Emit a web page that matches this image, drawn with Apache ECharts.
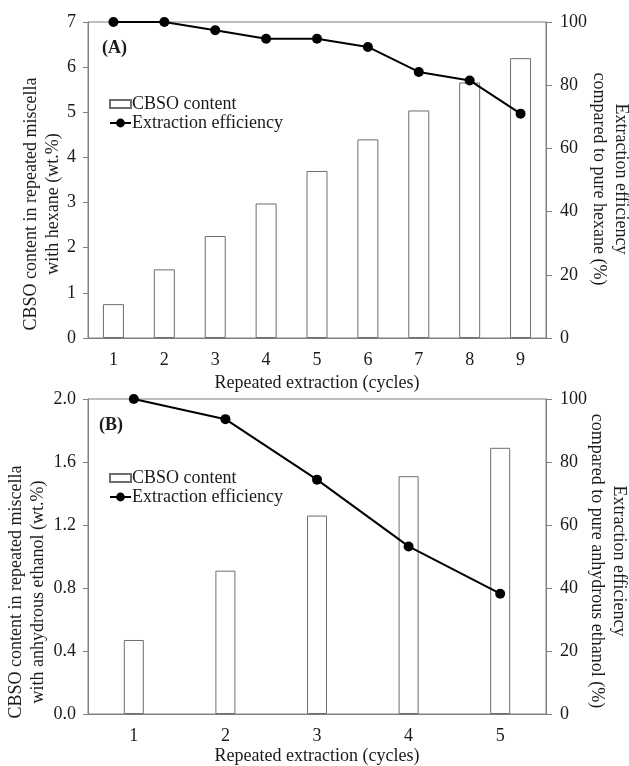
<!DOCTYPE html>
<html>
<head>
<meta charset="utf-8">
<script src="https://cdn.jsdelivr.net/npm/echarts@6/dist/echarts.min.js"></script>
<style>
  html, body { margin: 0; padding: 0; background: #fff; }
  #chart { width: 629px; height: 766px; }
</style>
</head>
<body>
<div id="chart"></div>
<script>
// panel A (hexane)
const cyclesA = ['1', '2', '3', '4', '5', '6', '7', '8', '9'];
const contentA = [0.75, 1.52, 2.26, 2.98, 3.70, 4.40, 5.04, 5.66, 6.20];
const efficiencyA = [100, 100, 97.4, 94.7, 94.7, 92.1, 84.2, 81.5, 71.0];
// panel B (anhydrous ethanol)
const cyclesB = ['1', '2', '3', '4', '5'];
const contentB = [0.47, 0.91, 1.26, 1.51, 1.69];
const efficiencyB = [100, 93.6, 74.4, 53.2, 38.2];

const font = "'Liberation Serif', 'Times New Roman', serif";
const axisGray = '#7f7f7f';
const txt = '#1a1a1a';

let myChart = echarts.init(document.getElementById('chart'));

function xAxisOf (idx, data, gap) {
  return {
    type: 'category',
    gridIndex: idx,
    data: data,
    name: 'Repeated extraction (cycles)',
    nameLocation: 'middle',
    nameGap: gap,
    nameTextStyle: { fontFamily: font, fontSize: 18, color: txt },
    axisLine: { lineStyle: { color: axisGray } },
    axisTick: { show: false },
    axisLabel: { fontFamily: font, fontSize: 18, color: txt, margin: 13 }
  }
}

function yAxisOf (idx, max, interval, right, digits) {
  return {
    type: 'value',
    gridIndex: idx,
    position: right ? 'right' : 'left',
    min: 0,
    max: max,
    interval: interval,
    splitLine: { show: false },
    axisLine: { show: true, lineStyle: { color: axisGray } },
    axisTick: { show: true, length: right ? 6 : 5, lineStyle: { color: axisGray } },
    axisLabel: {
      fontFamily: font, fontSize: 18, color: txt,
      margin: right ? 14 : 12,
      formatter: v => v.toFixed(digits)
    }
  }
}

const barStyle = { color: '#fff', borderColor: '#6e6e6e', borderWidth: 1 };
const lineStyle = { color: '#000', width: 2 };

// one legend per entry so the marker and box can get their own sizes
function legendOf (name, top, h) {
  return {
    data: [name === 'CBSO content' ? { name: name, icon: 'rect' } : { name: name }],
    left: 104,
    top: top,
    itemWidth: 21,
    itemHeight: h,
    textStyle: { fontFamily: font, fontSize: 18, color: txt, lineHeight: 20, padding: [0, 0, 0, -4] },
    selectedMode: false
  }
}

function rotText (x, y, rot, text) {
  return {
    type: 'text',
    x: x,
    y: y,
    rotation: rot,
    style: {
      text: text,
      fontFamily: font,
      fontSize: 18,
      lineHeight: 22,
      fill: txt,
      align: 'center',
      verticalAlign: 'middle'
    }
  }
}

let option = {
  animation: false,
  grid: [
    { left: 88, right: 83, top: 22, height: 316, show: true, borderColor: axisGray, borderWidth: 1 },
    { left: 88, right: 83, top: 399, height: 317, show: true, borderColor: axisGray, borderWidth: 1 }
  ],
  legend: [
    legendOf('CBSO content', 89, 8),
    legendOf('Extraction efficiency', 108, 11),
    legendOf('CBSO content', 463, 8),
    legendOf('Extraction efficiency', 482, 11)
  ],
  xAxis: [xAxisOf(0, cyclesA, 36), xAxisOf(1, cyclesB, 33)],
  yAxis: [
    yAxisOf(0, 7, 1, false, 0),
    yAxisOf(0, 100, 20, true, 0),
    yAxisOf(1, 2, 0.4, false, 1),
    yAxisOf(1, 100, 20, true, 0)
  ],
  series: [
    {
      name: 'CBSO content', type: 'bar', xAxisIndex: 0, yAxisIndex: 0,
      data: contentA, barWidth: 21, itemStyle: barStyle, z: 2
    },
    {
      name: 'Extraction efficiency', type: 'line', xAxisIndex: 0, yAxisIndex: 1,
      data: efficiencyA, symbol: 'circle', symbolSize: 10,
      itemStyle: { color: '#000' }, lineStyle: lineStyle, z: 3
    },
    {
      name: 'CBSO content', type: 'bar', xAxisIndex: 1, yAxisIndex: 2,
      data: contentB, barWidth: 20, itemStyle: barStyle, z: 2
    },
    {
      name: 'Extraction efficiency', type: 'line', xAxisIndex: 1, yAxisIndex: 3,
      data: efficiencyB, symbol: 'circle', symbolSize: 10,
      itemStyle: { color: '#000' }, lineStyle: lineStyle, z: 3
    }
  ],
  graphic: [
    { type: 'text', x: 102, y: 48, style: { text: '(A)', fontFamily: font, fontSize: 18, fontWeight: 'bold', fill: txt, verticalAlign: 'middle' } },
    { type: 'text', x: 99, y: 425, style: { text: '(B)', fontFamily: font, fontSize: 18, fontWeight: 'bold', fill: txt, verticalAlign: 'middle' } },
    rotText(42.5, 204, Math.PI / 2, 'CBSO content in repeated miscella\nwith hexane (wt.%)'),
    rotText(610, 179, -Math.PI / 2, 'Extraction efficiency\ncompared to pure hexane (%)'),
    rotText(27.5, 592, Math.PI / 2, 'CBSO content in repeated miscella\nwith anhydrous ethanol (wt.%)'),
    rotText(607.5, 561, -Math.PI / 2, 'Extraction efficiency\ncompared to pure anhydrous ethanol (%)')
  ]
};
myChart.setOption(option);
</script>
</body>
</html>
